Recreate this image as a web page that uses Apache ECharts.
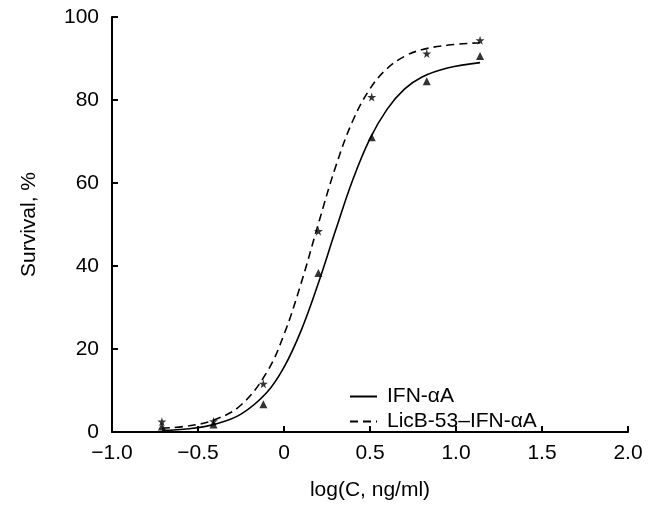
<!DOCTYPE html>
<html><head><meta charset="utf-8">
<script src="https://cdn.jsdelivr.net/npm/echarts@6/dist/echarts.min.js"></script>
<style>html,body{margin:0;padding:0;background:#fff}#c{width:654px;height:509px}</style>
</head><body><div id="c"></div>
<script>
// Measured points
const doseX = [-0.71, -0.41, -0.12, 0.2, 0.51, 0.83, 1.14];
const ifnPoints = [1.3, 1.8, 6.7, 38.3, 71.0, 84.5, 90.6];
const licbPoints = [2.5, 2.6, 11.6, 48.4, 80.7, 91.2, 94.4];
// Fitted curves
const curveX = [-0.71, -0.55, -0.4, -0.25, -0.1, 0, 0.1, 0.2, 0.3, 0.4, 0.5, 0.6, 0.7, 0.8, 0.95, 1.14];
const ifnCurve = [0.4, 0.8, 1.9, 4.3, 9.5, 15.6, 24.5, 35.9, 48.6, 60.8, 70.7, 77.8, 82.6, 85.5, 87.7, 89.0];
const licbCurve = [0.9, 1.5, 3.0, 6.5, 14.4, 23.5, 35.9, 50.2, 63.9, 75.0, 82.7, 87.6, 90.5, 92.1, 93.2, 93.8];
const xTicks = [-1.0, -0.5, 0, 0.5, 1.0, 1.5, 2.0];
const seriesNames = ['IFN-αA', 'LicB-53–IFN-αA'];

const FONT = 'Liberation Sans, Arial, Helvetica, sans-serif';
const FS = 21;
const STAR = 'path://M50,0 L61,35 L98,35 L68,57 L79,91 L50,70 L21,91 L32,57 L2,35 L39,35 Z';
const zip = (xs, ys) => xs.map((x, i) => [x, ys[i]]);

const chart = echarts.init(document.getElementById('c'), null, {renderer: 'canvas'});
chart.setOption({
  animation: false,
  backgroundColor: '#fff',
  textStyle: {fontFamily: FONT, color: '#000'},
  grid: {left: 112, right: 26, top: 17, bottom: 77},
  legend: {
    data: seriesNames.map(n => ({name: n})),
    orient: 'vertical', left: 344, top: 381,
    itemWidth: 27, itemHeight: 14, itemGap: 4,
    itemStyle: {opacity: 0},
    textStyle: {fontFamily: FONT, fontSize: FS, color: '#000', padding: [0, 0, 0, 5]}
  },
  xAxis: {
    type: 'value', min: -1, max: 2, interval: 0.5,
    name: 'log(C, ng/ml)', nameLocation: 'middle', nameGap: 48,
    nameTextStyle: {fontFamily: FONT, fontSize: FS, color: '#000'},
    axisLine: {onZero: false, lineStyle: {color: '#000', width: 2}},
    axisTick: {inside: true, length: 6, lineStyle: {color: '#000', width: 2}},
    splitLine: {show: false},
    axisLabel: {
      fontFamily: FONT, fontSize: FS, color: '#000', margin: 11,
      formatter: v => {
        const t = xTicks.find(k => Math.abs(k - v) < 1e-9);
        if (t === undefined) return '';
        if (t === 0) return '0';
        return (t < 0 ? '\u2212' : '') + Math.abs(t).toFixed(1);
      }
    }
  },
  yAxis: {
    type: 'value', min: 0, max: 100, interval: 20,
    name: 'Survival, %', nameLocation: 'middle', nameGap: 72, nameRotate: 90,
    nameTextStyle: {fontFamily: FONT, fontSize: FS, color: '#000'},
    axisLine: {show: true, onZero: false, lineStyle: {color: '#000', width: 2}},
    axisTick: {show: true, inside: true, length: 6, lineStyle: {color: '#000', width: 2}},
    splitLine: {show: false},
    axisLabel: {fontFamily: FONT, fontSize: FS, color: '#000', margin: 13}
  },
  series: [
    {
      name: seriesNames[0], type: 'line', smooth: 0.4, showSymbol: false, symbol: 'none',
      data: zip(curveX, ifnCurve),
      lineStyle: {color: '#000', width: 1.6, type: 'solid'}, itemStyle: {color: '#000'}, z: 2
    },
    {
      name: seriesNames[1], type: 'line', smooth: 0.4, showSymbol: false, symbol: 'none',
      data: zip(curveX, licbCurve),
      lineStyle: {color: '#000', width: 1.6, type: [8, 5]}, itemStyle: {color: '#000'}, z: 2
    },
    {
      name: 'ifn-pts', type: 'scatter', symbol: 'triangle', symbolSize: [8, 8],
      data: zip(doseX, ifnPoints), itemStyle: {color: '#000'}, z: 3
    },
    {
      name: 'licb-pts', type: 'scatter', symbol: STAR, symbolSize: [9, 9],
      data: zip(doseX, licbPoints), itemStyle: {color: '#000'}, z: 3
    }
  ]
});
</script></body></html>
